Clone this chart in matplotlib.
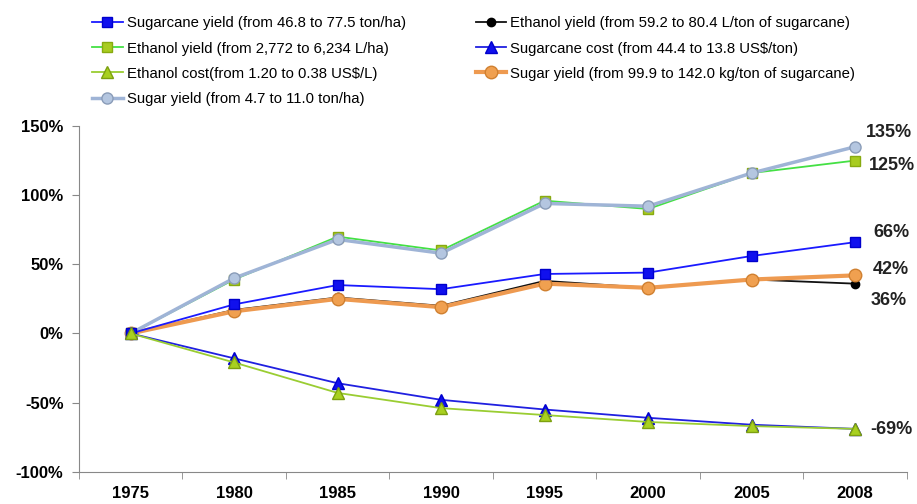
import matplotlib

matplotlib.use("Agg")
import matplotlib.pyplot as plt

years = ["1975", "1980", "1985", "1990", "1995", "2000", "2005", "2008"]

# change relative to 1975, in percent
sugarcane_yield = [0, 21, 35, 32, 43, 44, 56, 66]
ethanol_yield_ha = [0, 39, 70, 60, 96, 90, 116, 125]
ethanol_cost = [0, -21, -43, -54, -59, -64, -67, -69]
sugar_yield_ha = [0, 40, 68, 58, 94, 92, 116, 135]
ethanol_yield_ton = [0, 17, 26, 20, 38, 33, 39, 36]
sugarcane_cost = [0, -18, -36, -48, -55, -61, -66, -69]
sugar_yield_ton = [0, 16, 25, 19, 36, 33, 39, 42]

end_labels = ["135%", "125%", "66%", "42%", "36%", "-69%"]
yticks = [-100, -50, 0, 50, 100, 150]

plt.rcParams["font.family"] = ["Liberation Sans", "DejaVu Sans"]

fig = plt.figure(figsize=(9.17, 5.04), dpi=100)
ax = fig.add_axes([0.086, 0.064, 0.903, 0.686])
x = range(len(years))

# (label, values, line colour, line width, marker, face, edge, marker size)
series = [
    ("Sugarcane yield (from 46.8 to 77.5 ton/ha)", sugarcane_yield, "#1a1aff", 1.3, "s", "#1010ee", "#0000cc", 7),
    ("Ethanol yield (from 2,772 to 6,234 L/ha)", ethanol_yield_ha, "#44e044", 1.3, "s", "#a8cc20", "#88aa10", 7),
    ("Ethanol cost(from 1.20 to 0.38 US$/L)", ethanol_cost, "#9acd32", 1.3, "^", "#a8d020", "#7da010", 8),
    ("Sugar yield (from 4.7 to 11.0 ton/ha)", sugar_yield_ha, "#9fb4d6", 2.5, "o", "#b4c6e0", "#8a9cb8", 8),
    ("Ethanol yield (from 59.2 to 80.4 L/ton of sugarcane)", ethanol_yield_ton, "#111111", 1.3, "o", "#000000", "#000000", 6),
    ("Sugarcane cost (from 44.4 to 13.8 US$/ton)", sugarcane_cost, "#2020e0", 1.3, "^", "#1010ee", "#0000cc", 8),
    ("Sugar yield (from 99.9 to 142.0 kg/ton of sugarcane)", sugar_yield_ton, "#ee9a50", 3.0, "o", "#f0a050", "#d08030", 9),
]
zorders = [5, 3, 6, 4, 2, 5, 3]

handles = []
for (label, vals, lc, lw, mk, fc, ec, ms), z in zip(series, zorders):
    (h,) = ax.plot(x, vals, color=lc, lw=lw, marker=mk, markerfacecolor=fc,
                   markeredgecolor=ec, markersize=ms, label=label, zorder=z,
                   clip_on=False)
    handles.append(h)

ax.set_xlim(-0.5, len(years) - 0.5)
ax.set_ylim(-100, 150)
ax.set_yticks(yticks)
ax.set_yticklabels([f"{v}%" for v in yticks], fontsize=12, fontweight="bold")
ax.set_xticks(list(x))
ax.set_xticklabels(years, fontsize=12, fontweight="bold")
ax.set_xticks([i + 0.5 for i in range(-1, len(years))], minor=True)
ax.tick_params(axis="x", which="major", length=0, pad=10)
ax.tick_params(axis="x", which="minor", length=5, color="#888888")
ax.tick_params(axis="y", length=5, color="#888888", pad=6)
for side in ["top", "right"]:
    ax.spines[side].set_visible(False)
for side in ["left", "bottom"]:
    ax.spines[side].set_color("#888888")

# end-of-series labels
last = len(years) - 1
label_vals = [sugar_yield_ha[last], ethanol_yield_ha[last], sugarcane_yield[last],
              sugar_yield_ton[last], ethanol_yield_ton[last], ethanol_cost[last]]
offsets = [(34, 14), (37, -5), (36, 10), (36, 6), (34, -17), (36, -1)]
for txt, v, off in zip(end_labels, label_vals, offsets):
    ax.annotate(txt, xy=(last, v), xytext=off, textcoords="offset pixels",
                ha="center", va="center", fontsize=13, fontweight="bold",
                color="#222222", annotation_clip=False)

fig.legend(handles=handles, loc="upper left", bbox_to_anchor=(0.086, 0.994),
           ncol=2, frameon=False, handlelength=2.05, handletextpad=0.27,
           columnspacing=4.7, labelspacing=0.75,
           prop={"family": "Liberation Sans", "size": 10.7})

fig.savefig("out.png", dpi=100)
